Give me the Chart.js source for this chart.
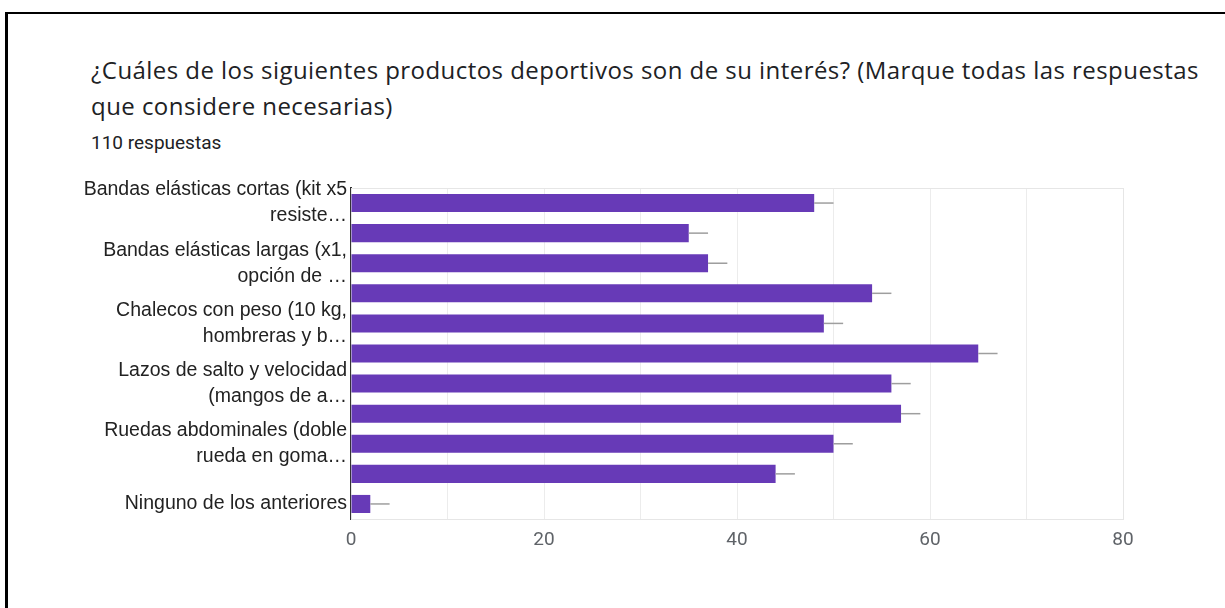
<!DOCTYPE html>
<html>
<head>
<meta charset="utf-8">
<script src="https://cdn.jsdelivr.net/npm/chart.js@4.4.1/dist/chart.umd.min.js"></script>
<style>
    html, body { margin: 0; padding: 0; background: #fff; }
    body { width: 1225px; height: 608px; position: relative; overflow: hidden; }
    .frame {
        position: absolute; left: 5px; top: 12px; right: -10px; bottom: -10px;
        border-top: 2px solid #000; border-left: 3px solid #000;
    }
    .title {
        position: absolute; left: 91px; top: 52px; white-space: nowrap;
        font-family: "Open Sans", sans-serif; font-size: 24px; letter-spacing: 0.45px;
        line-height: 36px; color: #202124;
    }
    .count {
        position: absolute; left: 91px; top: 131px;
        font-family: Roboto, sans-serif; font-size: 19px; color: #202124;
    }
    #chart { position: absolute; left: 0; top: 0; }
</style>
</head>
<body>
<div class="frame"></div>
<div class="title">¿Cuáles de los siguientes productos deportivos son de su interés? (Marque todas las respuestas<br>que considere necesarias)</div>
<div class="count">110 respuestas</div>
<canvas id="chart" width="1225" height="608"></canvas>
<script>
// rows without a label are skipped on the axis
const categories = [
    ["Bandas elásticas cortas (kit x5", "resiste…"],
    "",
    ["Bandas elásticas largas (x1,", "opción de …"],
    "",
    ["Chalecos con peso (10 kg,", "hombreras y b…"],
    "",
    ["Lazos de salto y velocidad", "(mangos de a…"],
    "",
    ["Ruedas abdominales (doble", "rueda en goma…"],
    "",
    "Ninguno de los anteriores"
];
const counts = [48, 35, 37, 54, 49, 65, 56, 57, 50, 44, 2];
const xTicks = [0, 20, 40, 60, 80];
const whisker = 2;

// light frame around the plot + grey whisker past each bar end
const extras = {
    id: "extras",
    beforeDatasetsDraw(chart) {
        const { ctx, chartArea: a } = chart;
        ctx.save();
        ctx.strokeStyle = "#e6e6e6";
        ctx.lineWidth = 1;
        ctx.strokeRect(a.left + 0.5, a.top + 0.5, a.right - a.left, a.bottom - a.top);
        ctx.restore();
    },
    afterDatasetsDraw(chart) {
        const { ctx } = chart;
        const x = chart.scales.x;
        const meta = chart.getDatasetMeta(0);
        ctx.save();
        ctx.strokeStyle = "#9e9e9e";
        ctx.lineWidth = 1.5;
        meta.data.forEach((bar, i) => {
            const v = counts[i];
            ctx.beginPath();
            ctx.moveTo(x.getPixelForValue(v), bar.y);
            ctx.lineTo(x.getPixelForValue(v + whisker), bar.y);
            ctx.stroke();
        });
        ctx.restore();
    }
};

new Chart(document.getElementById("chart"), {
    type: "bar",
    data: {
        labels: categories,
        datasets: [{
            data: counts,
            backgroundColor: "#673ab7",
            borderWidth: 0,
            barPercentage: 0.6,
            categoryPercentage: 1
        }]
    },
    options: {
        indexAxis: "y",
        responsive: false,
        animation: false,
        layout: { padding: { left: 0, right: 102, top: 188, bottom: 48 } },
        plugins: { legend: { display: false }, tooltip: { enabled: false } },
        scales: {
            x: {
                min: xTicks[0],
                max: xTicks[xTicks.length - 1],
                afterFit: s => { s.height = 41; },
                ticks: {
                    stepSize: 10,
                    padding: 10,
                    color: "#5f6368",
                    font: { family: "Roboto", size: 19 },
                    callback: v => xTicks.includes(v) ? String(v) : ""
                },
                grid: { color: "#ececec", drawTicks: false },
                border: { color: "#e6e6e6" }
            },
            y: {
                afterFit: s => { s.width = 351; },
                ticks: {
                    autoSkip: false,
                    padding: 4,
                    color: "#222",
                    font: { family: "Liberation Sans", size: 19.5, lineHeight: 1.34 }
                },
                grid: { display: false, drawTicks: false },
                border: { color: "#333", width: 2 }
            }
        }
    },
    plugins: [extras]
});
</script>
</body>
</html>
